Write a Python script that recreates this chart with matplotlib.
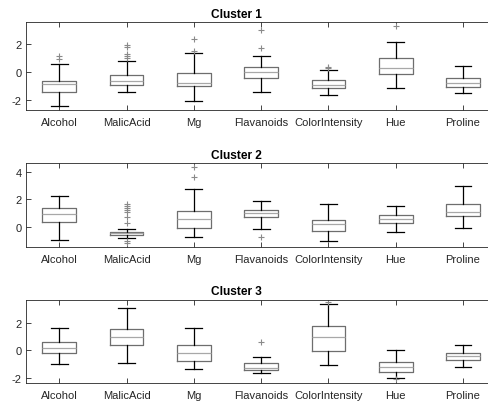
import matplotlib
matplotlib.use("Agg")
import matplotlib.pyplot as plt

plt.rcParams['font.family'] = ['Liberation Sans', 'DejaVu Sans']
plt.rcParams['axes.unicode_minus'] = False

features = ["Alcohol", "MalicAcid", "Mg", "Flavanoids", "ColorIntensity", "Hue", "Proline"]
titles = ["Cluster 1", "Cluster 2", "Cluster 3"]

# Cluster 1
c1_lo = [-2.45, -1.45, -2.11, -1.47, -1.66, -1.19, -1.50]
c1_q1 = [-1.45, -0.97, -1.04, -0.45, -1.14, -0.19, -1.09]
c1_med = [-0.90, -0.64, -0.83, -0.02, -0.93, 0.29, -0.79]
c1_q3 = [-0.64, -0.24, -0.09, 0.36, -0.61, 0.98, -0.43]
c1_hi = [0.55, 0.74, 1.31, 1.10, 0.14, 2.12, 0.41]
c1_fliers = [[1.10, 0.88], [1.90, 1.75, 1.30, 1.15, 1.00], [2.36, 1.50], [2.98, 1.67], [0.36, 0.30], [3.29], []]

# Cluster 2
c2_lo = [-0.94, -0.82, -0.70, -0.14, -1.01, -0.38, -0.07]
c2_q1 = [0.39, -0.56, -0.10, 0.70, -0.27, 0.27, 0.78]
c2_med = [0.94, -0.46, 0.56, 0.99, 0.19, 0.56, 1.09]
c2_q3 = [1.38, -0.34, 1.18, 1.23, 0.51, 0.87, 1.69]
c2_hi = [2.27, -0.14, 2.75, 1.91, 1.67, 1.54, 2.97]
c2_fliers = [[], [1.67, 1.52, 1.38, 1.23, 1.09, 0.70, 0.27, -0.99, -1.14], [4.37, 3.60], [-0.70], [], [], []]

# Cluster 3
c3_lo = [-1.00, -0.95, -1.36, -1.68, -1.07, -2.02, -1.20]
c3_q1 = [-0.22, 0.36, -0.76, -1.44, -0.03, -1.61, -0.71]
c3_med = [0.19, 0.97, -0.22, -1.29, 0.99, -1.24, -0.39]
c3_q3 = [0.58, 1.55, 0.41, -0.95, 1.75, -0.83, -0.17]
c3_hi = [1.63, 3.07, 1.60, -0.47, 3.40, 0.00, 0.39]
c3_fliers = [[], [], [], [0.61], [3.50], [-2.12], []]

clusters = [
    (c1_lo, c1_q1, c1_med, c1_q3, c1_hi, c1_fliers),
    (c2_lo, c2_q1, c2_med, c2_q3, c2_hi, c2_fliers),
    (c3_lo, c3_q1, c3_med, c3_q3, c3_hi, c3_fliers),
]
ylims = [(-2.75, 3.55), (-1.43, 4.62), (-2.36, 3.67)]
yticks = [[-2, 0, 2], [0, 2, 4], [-2, 0, 2]]

W, H = 488, 402
fig = plt.figure(figsize=(W / 100, H / 100), dpi=100)
ax_left = 25.6 / W
ax_width = (496.7 - 25.6) / W
ax_px = [(23.3, 111.0), (164.3, 247.7), (301.0, 383.7)]

axis_col = '#262626'
box_col = '#6e6e6e'
med_col = '#a8a8a8'
flier_col = '#8a8a8a'

for i, (lo, q1, med, q3, hi, fl) in enumerate(clusters):
    top, bot = ax_px[i]
    ax = fig.add_axes([ax_left, 1 - bot / H, ax_width, (bot - top) / H])
    stats = []
    for j, name in enumerate(features):
        stats.append(dict(label=name, whislo=lo[j], q1=q1[j], med=med[j],
                          q3=q3[j], whishi=hi[j], fliers=fl[j]))
    ax.bxp(stats, positions=range(1, len(features) + 1), widths=0.5,
           showfliers=True,
           boxprops=dict(color=box_col, linewidth=0.9),
           medianprops=dict(color=med_col, linewidth=0.9),
           whiskerprops=dict(color='black', linewidth=0.9),
           capprops=dict(color='black', linewidth=0.9),
           flierprops=dict(marker='+', markeredgecolor=flier_col,
                           markersize=5, markeredgewidth=0.8, linestyle='none'))
    ax.set_xlim(0.5, len(features) + 0.5)
    ax.set_ylim(*ylims[i])
    ax.set_yticks(yticks[i])
    ax.set_xticks(range(1, len(features) + 1))
    ax.set_xticklabels(features)
    ax.tick_params(direction='in', length=3.5, width=0.6, colors=axis_col,
                   labelsize=8, top=True, right=True, pad=3)
    ax.tick_params(axis='x', pad=5)
    for s in ax.spines.values():
        s.set_color(axis_col)
        s.set_linewidth(0.6)
    ax.set_title(titles[i], fontsize=8.6, fontweight='bold', pad=4, x=(236.5 - 25.6) / (496.7 - 25.6))

fig.savefig("out.png", dpi=100)
